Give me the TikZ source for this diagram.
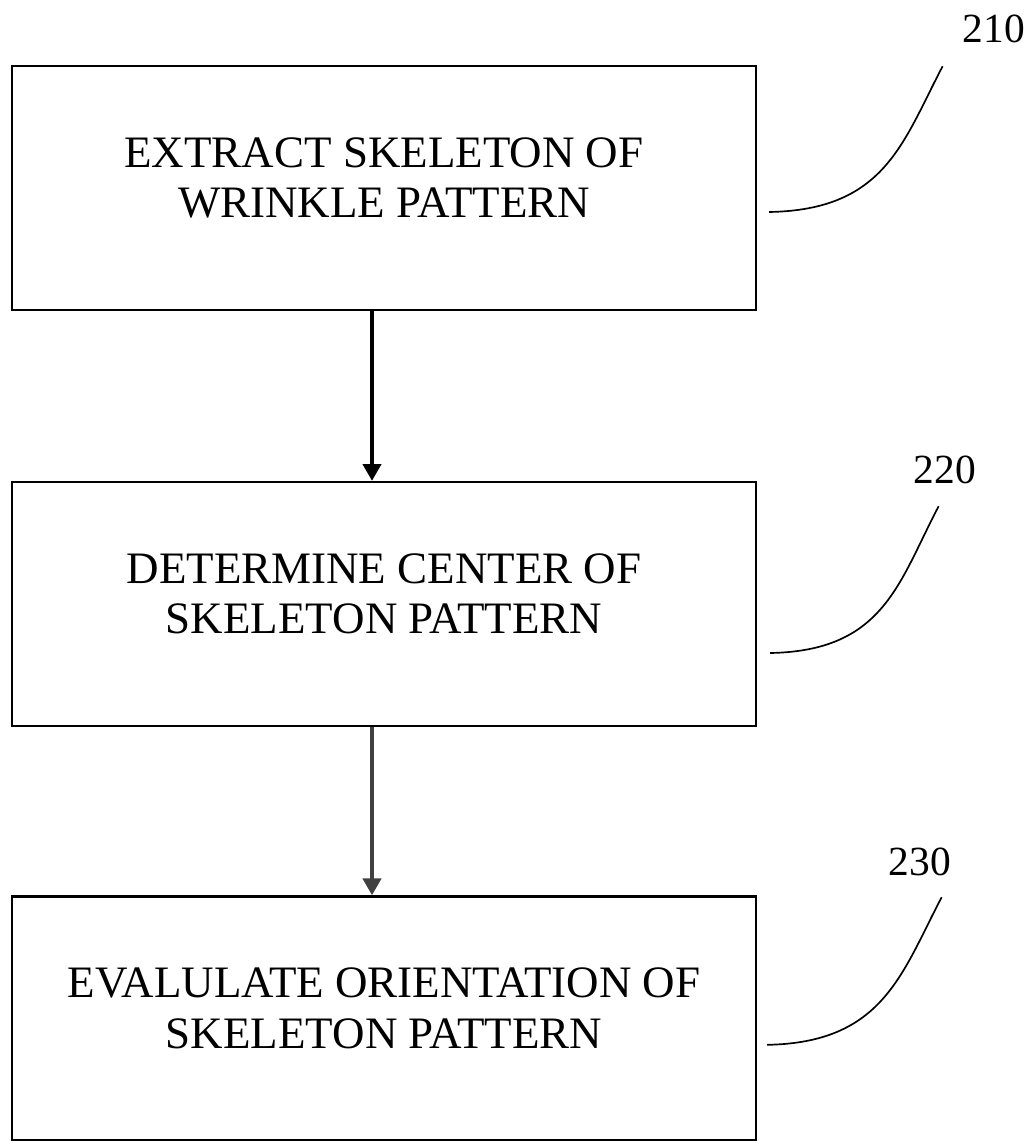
\documentclass[tikz,border=0pt]{standalone}
\usepackage{fontspec}
\setmainfont{Liberation Serif}
\usepackage{tikz}
\usetikzlibrary{arrows.meta}

\begin{document}
\begin{tikzpicture}[>={Triangle[length=0.42cm,width=0.45cm]},
stepbox/.style={draw,line width=1.6pt,minimum width=18.6cm,minimum height=6.1cm},
steptext/.style={align=center,font=\fontsize{32}{36}\selectfont},
refnum/.style={inner sep=0pt,font=\fontsize{29.5}{32}\selectfont},
flow/.style={->,line width=2.8pt},
lead/.style={line width=1.2pt}]
\useasboundingbox (0,0) rectangle (25.825,-28.525);

\node[stepbox] (b1) at (9.6,-4.7) {};
\node[stepbox] (b2) at (9.6,-15.1) {};
\node[stepbox] (b3) at (9.6,-25.46) {};

\node[steptext] (t1) at ([yshift=0.25cm]b1.center) {EXTRACT SKELETON OF\\WRINKLE PATTERN};
\node[steptext] (t2) at ([yshift=0.25cm]b2.center) {DETERMINE CENTER OF\\SKELETON PATTERN};
\node[steptext] (t3) at ([yshift=0.25cm]b3.center) {EVALULATE ORIENTATION OF\\SKELETON PATTERN};

\node[refnum] (r1) at (24.85,-0.725) {210};
\node[refnum] (r2) at (23.625,-11.75) {220};
\node[refnum] (r3) at (23.0,-21.55) {230};

\draw[flow] ([xshift=-0.3cm]b1.south) -- ([xshift=-0.3cm]b2.north);
\draw[flow,black!75] ([xshift=-0.3cm]b2.south) -- ([xshift=-0.3cm]b3.north);

\draw[lead] ([xshift=0.3cm,yshift=-0.6cm]b1.east) .. controls +(2.9,0.05) and +(-1,-1.9) .. ([xshift=-0.5cm,yshift=-0.575cm]r1.south west);
\draw[lead] ([xshift=0.325cm,yshift=-1.225cm]b2.east) .. controls +(2.85,0.05) and +(-1,-1.9) .. ([xshift=0.625cm,yshift=-0.55cm]r2.south west);
\draw[lead] ([xshift=0.25cm,yshift=-0.66cm]b3.east) .. controls +(2.9,0.05) and +(-1,-1.9) .. ([xshift=1.325cm,yshift=-0.525cm]r3.south west);
\end{tikzpicture}
\end{document}
